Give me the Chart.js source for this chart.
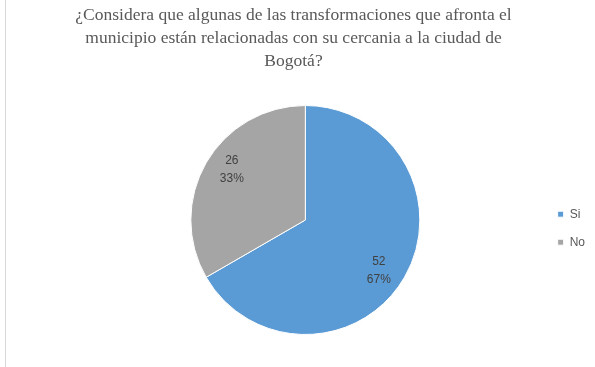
<!DOCTYPE html>
<html>
<head>
<meta charset="utf-8">
<script src="https://cdn.jsdelivr.net/npm/chart.js@4"></script>
<style>
  html, body { margin: 0; padding: 0; background: #fff; }
  #wrap { width: 595px; height: 367px; }
</style>
</head>
<body>
<div id="wrap"><canvas id="pieChart"></canvas></div>
<script>
const categories = ['Si', 'No'];
const values = [52, 26];
const colors = ['#5b9bd5', '#a5a5a5'];
const titleLines = [
  '¿Considera que algunas de las transformaciones que afronta el',
  'municipio están relacionadas con su cercania a la ciudad de',
  'Bogotá?'
];

// left edge of the chart frame
const frameLine = {
  id: 'frameLine',
  beforeDraw(chart) {
    const c = chart.ctx;
    c.save();
    c.strokeStyle = '#d9d9d9';
    c.lineWidth = 1;
    c.beginPath();
    c.moveTo(5.5, 0);
    c.lineTo(5.5, chart.height);
    c.stroke();
    c.restore();
  }
};

// title, a bit left of the pie centre like the original
const chartTitle = {
  id: 'chartTitle',
  afterDraw(chart) {
    const c = chart.ctx;
    c.save();
    c.font = '17.5px "Liberation Serif", serif';
    c.fillStyle = '#595959';
    c.textAlign = 'center';
    c.textBaseline = 'middle';
    titleLines.forEach((line, i) => {
      c.fillText(line, chart.width / 2 - 4, 15 + i * 23);
    });
    c.restore();
  }
};

// value + percent labels inside the slices
const sliceLabels = {
  id: 'sliceLabels',
  afterDatasetsDraw(chart) {
    const c = chart.ctx;
    const data = chart.data.datasets[0].data;
    const total = data.reduce((a, b) => a + b, 0);
    c.save();
    c.font = '12px "Liberation Sans", Arial, sans-serif';
    c.fillStyle = '#404040';
    c.textAlign = 'center';
    c.textBaseline = 'middle';
    chart.getDatasetMeta(0).data.forEach((arc, i) => {
      const mid = (arc.startAngle + arc.endAngle) / 2 + 0.08;
      const r = arc.outerRadius * 0.78;
      const x = arc.x + Math.cos(mid) * r;
      const y = arc.y + Math.sin(mid) * r;
      c.fillText(String(data[i]), x, y - 9);
      c.fillText(Math.round(data[i] / total * 100) + '%', x, y + 9);
    });
    c.restore();
  }
};

const ctx = document.getElementById('pieChart');
new Chart(ctx, {
  type: 'pie',
  data: {
    labels: categories,
    datasets: [{
      data: values,
      backgroundColor: colors,
      borderColor: '#ffffff',
      borderWidth: 1
    }]
  },
  options: {
    responsive: true,
    maintainAspectRatio: false,
    animation: false,
    layout: { padding: { top: 105, left: 69, right: 0, bottom: 32 } },
    plugins: {
      title: { display: false },
      legend: {
        position: 'right',
        title: { display: true, text: ' ', padding: 1, font: { size: 12 } },
        labels: {
          boxWidth: 6,
          boxHeight: 6,
          padding: 16,
          color: '#595959',
          font: { family: '"Liberation Sans", Arial, sans-serif', size: 12 }
        }
      },
      tooltip: { enabled: false }
    }
  },
  plugins: [frameLine, chartTitle, sliceLabels]
});
</script>
</body>
</html>
